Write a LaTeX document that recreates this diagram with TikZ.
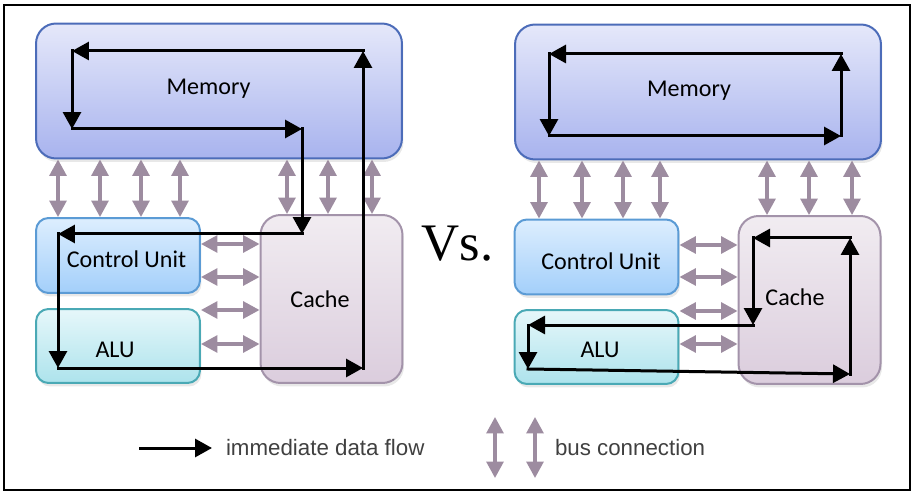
\documentclass[tikz,border=0pt]{standalone}
\usepackage{fontspec}
\setmainfont{Carlito}
\newfontfamily\legfont{Liberation Sans}
\newfontfamily\vsfont{Liberation Serif}
\usepackage{xcolor}
\usetikzlibrary{arrows.meta, shadows}
\definecolor{memtop}{HTML}{E5E8FA}
\definecolor{membot}{HTML}{A8B3EE}
\definecolor{memline}{HTML}{4C6CB9}
\definecolor{cutop}{HTML}{DDEEFE}
\definecolor{cubot}{HTML}{A3CFFA}
\definecolor{culine}{HTML}{5B9BD5}
\definecolor{alutop}{HTML}{E6F7FA}
\definecolor{alubot}{HTML}{ADE3EC}
\definecolor{aluline}{HTML}{4AA9B5}
\definecolor{catop}{HTML}{F1ECF1}
\definecolor{cabot}{HTML}{DBCDDD}
\definecolor{caline}{HTML}{A393AA}
\definecolor{busc}{HTML}{9D8CA0}
\definecolor{legc}{HTML}{404040}
\tikzstyle{blockm} = [rectangle, draw=memline, line width=0.04cm, rounded corners=0.4cm, minimum width=7.32cm, minimum height=2.7cm, top color=memtop, bottom color=membot, drop shadow={opacity=0.18, shadow xshift=0.03cm, shadow yshift=-0.07cm}]
\tikzstyle{blockc} = [rectangle, draw=culine, line width=0.04cm, rounded corners=0.25cm, minimum width=3.28cm, minimum height=1.5cm, top color=cutop, bottom color=cubot, drop shadow={opacity=0.18, shadow xshift=0.03cm, shadow yshift=-0.07cm}]
\tikzstyle{blocka} = [rectangle, draw=aluline, line width=0.04cm, rounded corners=0.25cm, minimum width=3.28cm, minimum height=1.48cm, top color=alutop, bottom color=alubot, drop shadow={opacity=0.18, shadow xshift=0.03cm, shadow yshift=-0.07cm}]
\tikzstyle{blockk} = [rectangle, draw=caline, line width=0.04cm, rounded corners=0.4cm, minimum width=2.84cm, minimum height=3.36cm, top color=catop, bottom color=cabot, drop shadow={opacity=0.18, shadow xshift=0.03cm, shadow yshift=-0.07cm}]
\tikzstyle{txt} = [inner sep=0, outer sep=0, anchor=base, font=\fontsize{13.7}{16}\selectfont]
\tikzstyle{legtxt} = [inner sep=0, outer sep=0, anchor=base west, text=legc, font=\legfont\fontsize{12.7}{15}\selectfont]
\tikzstyle{line} = [draw, line width=0.06cm, line cap=rect, -{Triangle[length=0.34cm,width=0.36cm]}]
\tikzstyle{bus} = [draw=busc, line width=0.065cm, {Triangle[length=0.33cm,width=0.34cm]}-{Triangle[length=0.33cm,width=0.34cm]}]

\begin{document}
\begin{tikzpicture}[x=0.02cm, y=-0.02cm]
\useasboundingbox (0,0) rectangle (915,496);
\draw [line width=0.045cm] (4,5) rectangle (910,490);

\node [blockm] (M1) at (219,91) {};
\node [blockc] (C1) at (118,255.5) {};
\node [blocka] (A1) at (118,346) {};
\node [blockk] (K1) at (331.5,299) {};
\node [blockm] (M2) at (698,92) {};
\node [blockc] (C2) at (596.5,257) {};
\node [blocka] (A2) at (596.5,347) {};
\node [blockk] (K2) at (809.5,300) {};

\node [txt] (M1t) at (208.5,95) {Memory};
\node [txt] (C1t) at (126.5,268) {Control Unit};
\node [txt] (A1t) at (115,357) {ALU};
\node [txt] (K1t) at (320,307) {Cache};
\node [txt] (M2t) at (689,97) {Memory};
\node [txt] (C2t) at (601,270) {Control Unit};
\node [txt] (A2t) at (600,357) {ALU};
\node [txt] (K2t) at (795,305) {Cache};
\node [anchor=base, inner sep=0, font=\vsfont\fontsize{30}{36}\selectfont] (vs) at (457.5,260) {Vs.};

\foreach \x in {58,100,141,180} \path [bus] (M1.south -| \x,0) -- (C1.north -| \x,0);
\foreach \x in {287,328,372} \path [bus] (M1.south -| \x,0) -- (K1.north -| \x,0);
\foreach \x in {539,582,623,660} \path [bus] (M2.south -| \x,0) -- (C2.north -| \x,0);
\foreach \x in {767,809,852} \path [bus] (M2.south -| \x,0) -- (K2.north -| \x,0);
\foreach \y in {244,277} \path [bus] (C1.east |- 0,\y) -- (K1.west |- 0,\y);
\foreach \y in {310,344} \path [bus] (A1.east |- 0,\y) -- (K1.west |- 0,\y);
\foreach \y in {245,277} \path [bus] (C2.east |- 0,\y) -- (K2.west |- 0,\y);
\foreach \y in {311,344} \path [bus] (A2.east |- 0,\y) -- (K2.west |- 0,\y);

\coordinate (a1) at (58,368);
\coordinate (a2) at (363,368);
\coordinate (a3) at (363,51);
\coordinate (a4) at (72,51);
\coordinate (a5) at (72,129);
\coordinate (a6) at (302,129);
\coordinate (a7) at (302,234);
\coordinate (a8) at (58,234);
\path [line] (a1) -- (a2);
\path [line] (a2) -- (a3);
\path [line] (a3) -- (a4);
\path [line] (a4) -- (a5);
\path [line] (a5) -- (a6);
\path [line] (a6) -- (a7);
\path [line] (a7) -- (a8);
\path [line] (a8) -- (a1);

\coordinate (b1) at (841,136);
\coordinate (b2) at (841,54);
\coordinate (b3) at (549,54);
\coordinate (b4) at (549,136);
\path [line] (b1) -- (b2);
\path [line] (b2) -- (b3);
\path [line] (b3) -- (b4);
\path [line] (b4) -- (b1);

\coordinate (c1) at (753,238);
\coordinate (c2) at (753,325);
\coordinate (c3) at (528,325);
\coordinate (c4) at (528,369);
\coordinate (c5) at (850,374);
\coordinate (c6) at (850,238);
\path [line] (c1) -- (c2);
\path [line] (c2) -- (c3);
\path [line] (c3) -- (c4);
\path [line] (c4) -- (c5);
\path [line] (c5) -- (c6);
\path [line] (c6) -- (c1);

\coordinate (l1) at (140,448);
\coordinate (l2) at (212,448);
\path [line] (l1) -- (l2);
\node [legtxt] (flow) at (226,455) {immediate data flow};
\coordinate (u1) at (495,417);
\coordinate (u2) at (495,478);
\coordinate (v1) at (535,417);
\coordinate (v2) at (535,478);
\path [bus] (u1) -- (u2);
\path [bus] (v1) -- (v2);
\node [legtxt] (busl) at (555,455) {bus connection};

\end{tikzpicture}
\end{document}
